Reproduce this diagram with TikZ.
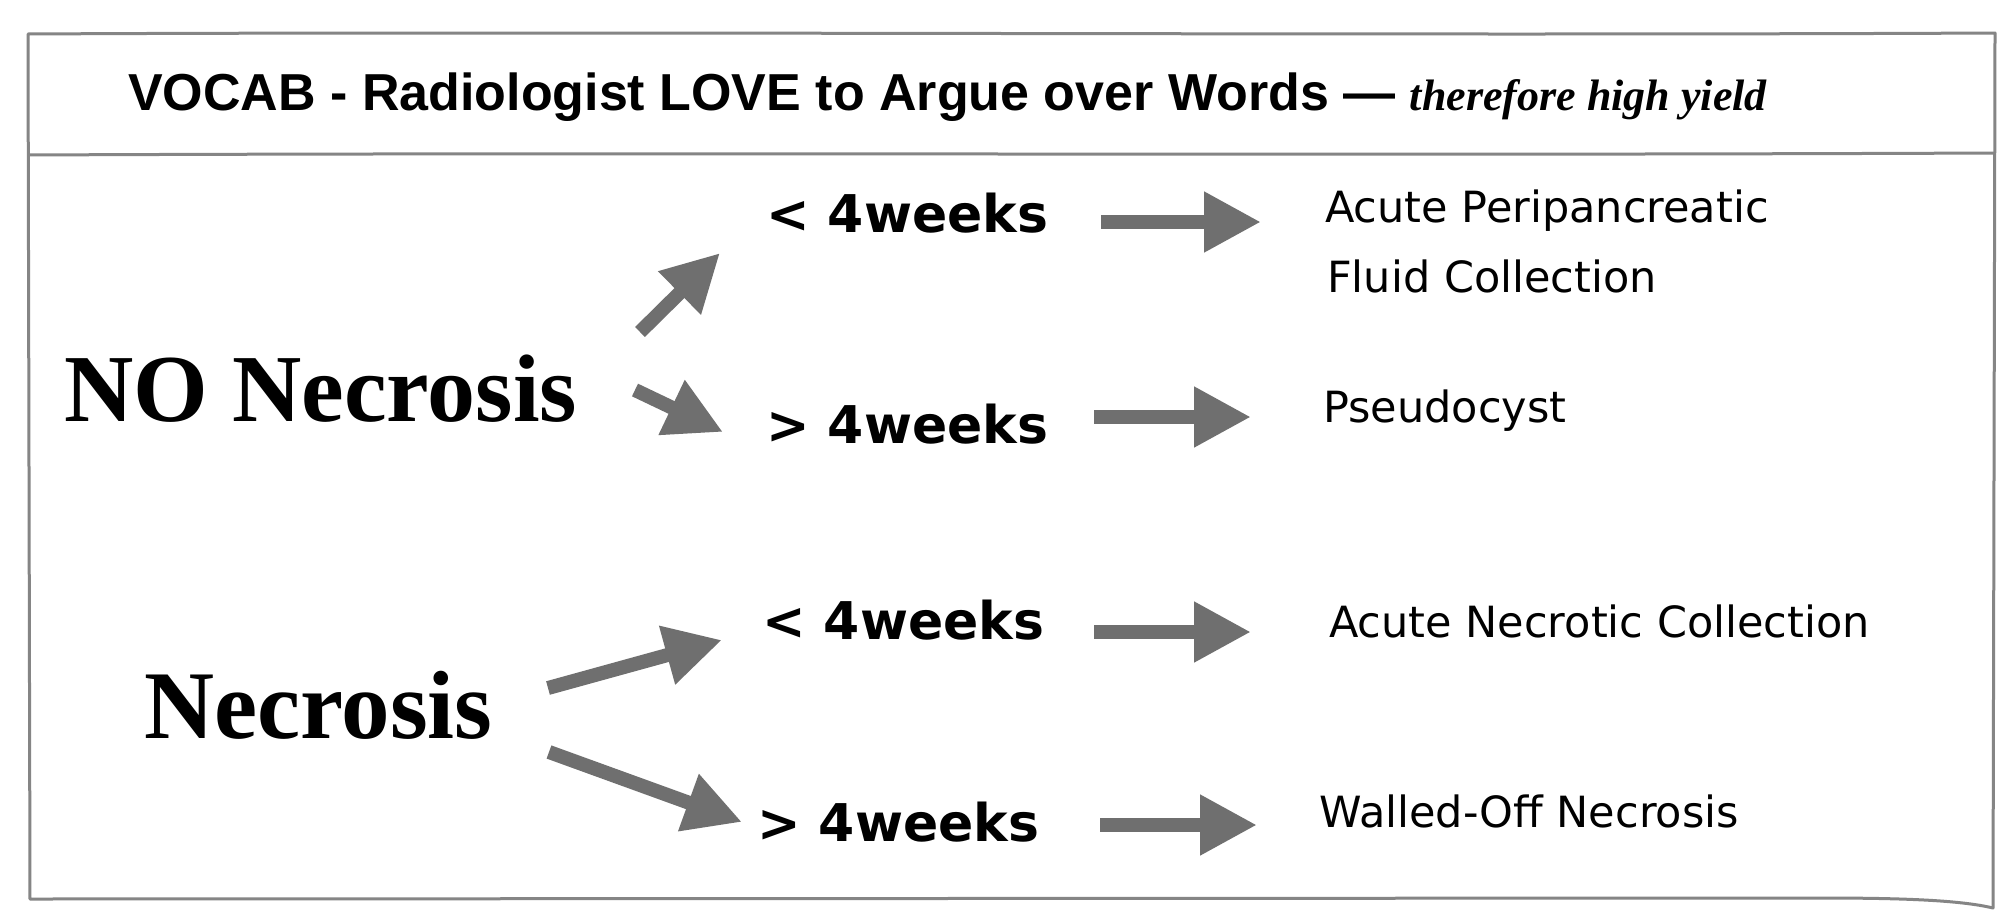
\documentclass[tikz,border=0pt]{standalone}
\usepackage{fontspec}
\setmainfont{Liberation Serif}
\newfontfamily\arialf{Liberation Sans}
\newfontfamily\verdf{DejaVu Sans}
\usetikzlibrary{arrows.meta}
\definecolor{arrowgray}{HTML}{6F6F6F}
\definecolor{framegray}{HTML}{858585}
\tikzset{
  frameline/.style={draw=framegray, line width=3pt, line join=round},
  bigarrow/.style={draw=arrowgray, line width=14pt, -{Triangle[length=57pt,width=57pt]}, arrowgray},
  titletext/.style={anchor=base west, inner sep=0pt, font=\arialf\bfseries\fontsize{52}{60}\selectfont},
  bigtext/.style={anchor=base west, inner sep=0pt, font=\bfseries\fontsize{96}{100}\selectfont},
  weektext/.style={anchor=base west, inner sep=0pt, font=\verdf\bfseries\fontsize{52}{60}\selectfont},
  restext/.style={anchor=base west, inner sep=0pt, font=\verdf\fontsize{43}{50}\selectfont}
}
\begin{document}
\begin{tikzpicture}[x=1pt,y=-1pt]
\useasboundingbox[fill=white] (0,0) rectangle (2008,916);
% frame
\draw[frameline] (28,34) .. controls (600,31) and (1400,36) .. (1995,33)
  -- (1993,908) .. controls (1960,900) and (1900,898) .. (1820,898) -- (30,899) -- cycle;
\draw[frameline] (28,155) .. controls (700,152) and (1300,156) .. (1995,153);
% title
\node[titletext] (title) at (128,110) {VOCAB - Radiologist LOVE to Argue over Words — {\rmfamily\bfseries\itshape\fontsize{44}{50}\selectfont therefore high yield}};
% left
\node[bigtext] (nonec) at (64,421) {NO Necrosis};
\node[bigtext, font=\bfseries\fontsize{97}{100}\selectfont] (nec) at (144,738) {Necrosis};
% weeks
\node[weektext] (w1) at (766,232) {< 4weeks};
\node[weektext] (w2) at (766,443) {> 4weeks};
\node[weektext] (w3) at (762,639) {< 4weeks};
\node[weektext] (w4) at (757,841) {> 4weeks};
% results
\node[restext] (r1a) at (1325,222) {Acute Peripancreatic};
\node[restext] (r1b) at (1327,292) {Fluid Collection};
\node[restext] (r2) at (1323,422) {Pseudocyst};
\node[restext] (r3) at (1329,637) {Acute Necrotic Collection};
\node[restext] (r4) at (1319,827) {Walled-Off Necrosis};
% arrow ends
\coordinate (d1s) at (640,332); \coordinate (d1e) at (720,253);
\coordinate (d2s) at (635,390); \coordinate (d2e) at (723,432);
\coordinate (d3s) at (548,688); \coordinate (d3e) at (722,640);
\coordinate (d4s) at (549,752); \coordinate (d4e) at (742,822);
\coordinate (h1s) at (1101,222); \coordinate (h1e) at (1261,222);
\coordinate (h2s) at (1094,417); \coordinate (h2e) at (1251,417);
\coordinate (h3s) at (1094,632); \coordinate (h3e) at (1251,632);
\coordinate (h4s) at (1100,825); \coordinate (h4e) at (1257,825);
\foreach \a in {d1,d2,d3,d4,h1,h2,h3,h4}
  \draw[bigarrow] (\a s) -- (\a e);
\end{tikzpicture}
\end{document}
